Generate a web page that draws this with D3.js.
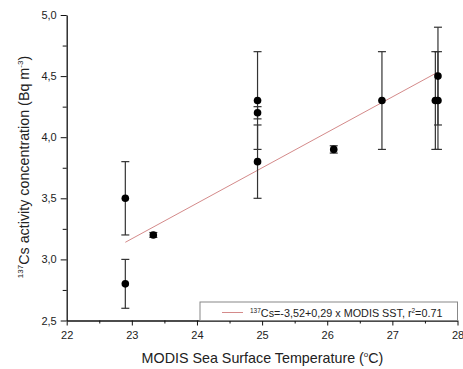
<!DOCTYPE html>
<html><head><meta charset="utf-8">
<script src="https://cdn.jsdelivr.net/npm/d3@7"></script>
<style>body{margin:0;background:#fff}svg{display:block}text{font-family:Arial,"Liberation Sans",sans-serif;fill:#222}</style>
</head><body>
<script>
const sstX = [22.9, 22.9, 23.33, 24.93, 24.93, 24.93, 26.1, 26.84, 27.66, 27.70, 27.70];
const csY  = [3.5, 2.8, 3.2, 4.3, 4.2, 3.8, 3.9, 4.3, 4.3, 4.3, 4.5];
const csErr = [0.3, 0.2, 0.02, 0.4, 0.05, 0.3, 0.03, 0.4, 0.4, 0.4, 0.4];
const fitX = [22.9, 27.69];
const fitY = [3.14, 4.53];
const xTicks = [22, 23, 24, 25, 26, 27, 28];
const yTicks = [2.5, 3.0, 3.5, 4.0, 4.5, 5.0];

const W = 463, H = 369;
const svg = d3.select("body").append("svg").attr("width", W).attr("height", H);
const x = d3.scaleLinear().domain([22, 28]).range([66.7, 457.5]);
const y = d3.scaleLinear().domain([2.5, 5]).range([320.5, 15]);
const fmt = d => d3.format(".1f")(d).replace(".", ",");

// axes
const xAxis = svg.append("g").attr("transform", `translate(0,${y(2.5)})`)
  .call(d3.axisBottom(x).tickValues(xTicks).tickFormat(d3.format("d")).tickSize(5).tickSizeOuter(0));
xAxis.append("g").call(d3.axisBottom(x).tickValues(d3.range(22.5, 28, 1)).tickFormat("").tickSize(3)).select(".domain").remove();
const yAxis = svg.append("g").attr("transform", `translate(${x(22)},0)`)
  .call(d3.axisLeft(y).tickValues(yTicks).tickFormat(fmt).tickSize(6).tickSizeOuter(0));
yAxis.append("g").call(d3.axisLeft(y).tickValues(d3.range(2.75, 5, 0.5)).tickFormat("").tickSize(4)).select(".domain").remove();
svg.selectAll(".domain").attr("stroke", "#111").attr("stroke-width", 1.3);
svg.selectAll(".tick line").attr("stroke", "#111");
xAxis.selectAll(".tick text").attr("font-size", 11).attr("dy", "0.95em").attr("fill", "#222");
yAxis.selectAll(".tick text").attr("font-size", 11).attr("dx", "-1").attr("fill", "#222");

// fit line
svg.append("line")
  .attr("x1", x(fitX[0])).attr("y1", y(fitY[0]))
  .attr("x2", x(fitX[1])).attr("y2", y(fitY[1]))
  .attr("stroke", "#d48a8a").attr("stroke-width", 1);

// error bars
const pts = sstX.map((v, i) => ({x: v, y: csY[i], e: csErr[i]}));
const eb = svg.append("g").attr("stroke", "#333").attr("stroke-width", 1.2);
pts.forEach(p => {
  eb.append("line").attr("x1", x(p.x)).attr("x2", x(p.x)).attr("y1", y(p.y - p.e)).attr("y2", y(p.y + p.e));
  [p.y - p.e, p.y + p.e].forEach(v => eb.append("line")
    .attr("x1", x(p.x) - 4).attr("x2", x(p.x) + 4).attr("y1", y(v)).attr("y2", y(v)));
});
svg.append("g").selectAll("circle").data(pts).join("circle")
  .attr("cx", d => x(d.x)).attr("cy", d => y(d.y)).attr("r", 3.8).attr("fill", "#000");

// legend
const lg = svg.append("g");
lg.append("rect").attr("x", 200).attr("y", 302).attr("width", 257.5).attr("height", 18.5)
  .attr("fill", "#fff").attr("stroke", "#888").attr("stroke-width", 1);
lg.append("line").attr("x1", 222).attr("x2", 243).attr("y1", 312.5).attr("y2", 312.5)
  .attr("stroke", "#d48a8a").attr("stroke-width", 1);
const lt = lg.append("text").attr("x", 250).attr("y", 316.5).attr("font-size", 10.8);
lt.append("tspan").attr("font-size", 6.5).attr("dy", -4).text("137");
lt.append("tspan").attr("dy", 4).text("Cs=-3,52+0,29 x MODIS SST, r");
lt.append("tspan").attr("font-size", 6.5).attr("dy", -4).text("2");
lt.append("tspan").attr("dy", 4).text("=0.71");

// axis titles
const xl = svg.append("text").attr("x", 262.5).attr("y", 363).attr("text-anchor", "middle").attr("font-size", 14.3);
xl.append("tspan").text("MODIS Sea Surface Temperature (");
xl.append("tspan").attr("font-size", 8).attr("dy", -6).text("o");
xl.append("tspan").attr("dy", 6).text("C)");

const yl = svg.append("text").attr("transform", "translate(28.5,167) rotate(-90)").attr("text-anchor", "middle").attr("font-size", 14.3);
yl.append("tspan").attr("font-size", 8).attr("dy", -6).text("137");
yl.append("tspan").attr("dy", 6).text("Cs activity concentration (Bq m");
yl.append("tspan").attr("font-size", 8).attr("dy", -6).text("-3");
yl.append("tspan").attr("dy", 6).text(")");
</script>
</body></html>
